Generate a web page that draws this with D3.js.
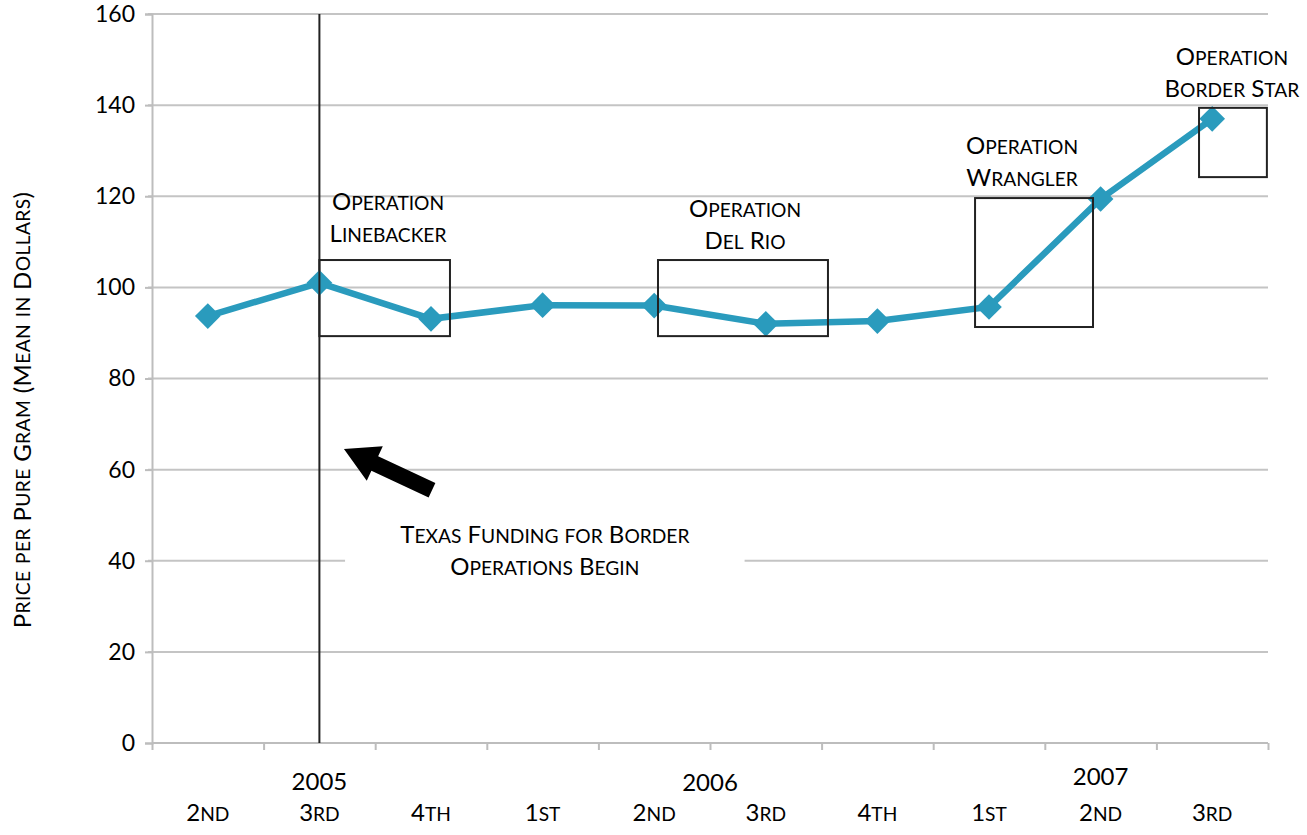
<!DOCTYPE html>
<html>
<head>
<meta charset="utf-8">
<script src="https://cdn.jsdelivr.net/npm/d3@7"></script>
<style>
  body { margin: 0; background: #fff; }
  text { font-family: Lato, "Open Sans", sans-serif; fill: #000; }
</style>
</head>
<body>
<div id="chart"></div>
<script>
// Données
const quarters = ["2nd", "3rd", "4th", "1st", "2nd", "3rd", "4th", "1st", "2nd", "3rd"];
const prices = [93.7, 101.0, 93.1, 96.1, 96.0, 92.0, 92.6, 95.7, 119.4, 137.0];
const years = [{ label: "2005", at: 1, dy: 0 }, { label: "2006", at: 4.5, dy: 1 }, { label: "2007", at: 8, dy: -5 }];
const yTicks = [0, 20, 40, 60, 80, 100, 120, 140, 160];

// Annotations (x en index de trimestre, y en dollars)
const boxes = [
    { x0: 1.0, x1: 2.17, y0: 89.3, y1: 106 },
    { x0: 4.034, x1: 5.557, y0: 89.3, y1: 106 },
    { x0: 6.875, x1: 7.932, y0: 91.3, y1: 119.6 },
    { x0: 8.882, x1: 9.49, y0: 124.2, y1: 139.4 }
];
const labels = [
    { x: 1.615, y: 119.0, lines: ["Operation", "Linebacker"] },
    { x: 4.814, y: 117.4, lines: ["Operation", "Del Rio"] },
    { x: 7.296, y: 131.3, lines: ["Operation", "Wrangler"] },
    { x: 9.177, y: 150.8, lines: ["Operation", "Border Star"] },
    { x: 3.02, y: 45.9, lines: ["Texas Funding for Border", "Operations Begin"] }
];
const arrow = { tip: [1.22, 64.5], tail: [2.009, 55.5] };
const startLine = 1;

const W = 1307, H = 835;
const margin = { top: 14, right: 39, bottom: 92, left: 152 };
const width = W - margin.left - margin.right;
const height = H - margin.top - margin.bottom;
const FS = 24;

const svg = d3.select("#chart").append("svg")
    .attr("width", W).attr("height", H)
    .append("g")
    .attr("transform", `translate(${margin.left},${margin.top})`);

const x = d3.scaleLinear().domain([-0.5, quarters.length - 0.5]).range([0, width]);
const y = d3.scaleLinear().domain([0, 160]).range([height, 0]);

// Petites capitales faites à la main (majuscules réduites à 80 %)
function smallCaps(sel, str, size) {
    const parts = [];
    for (const ch of str) {
        const small = ch !== ch.toUpperCase();
        const last = parts[parts.length - 1];
        if (last && last.small === small) last.s += ch;
        else parts.push({ s: ch, small });
    }
    parts.forEach(p => {
        sel.append("tspan")
            .style("font-size", (p.small ? size * 0.8 : size) + "px")
            .text(p.small ? p.s.toUpperCase() : p.s);
    });
}

// Grille horizontale
svg.selectAll(".grid").data(yTicks.filter(d => d > 0)).enter()
    .append("line")
    .attr("x1", -4).attr("x2", width)
    .attr("y1", d => y(d)).attr("y2", d => y(d))
    .attr("stroke", "#c4c4c4").attr("stroke-width", 2);

// Axe Y
const yAxis = svg.append("g").call(d3.axisLeft(y).tickValues(yTicks).tickSize(7).tickPadding(10));
yAxis.select(".domain").attr("stroke", "#bdbdbd").attr("stroke-width", 2);
yAxis.selectAll(".tick line").attr("stroke", "#bdbdbd").attr("stroke-width", 2);
yAxis.selectAll(".tick text").style("font-size", "23px").style("font-family", "Lato, sans-serif").attr("fill", "#000");

// Axe X
const bounds = d3.range(quarters.length + 1).map(i => i - 0.5);
const xAxis = svg.append("g").attr("transform", `translate(0,${height})`)
    .call(d3.axisBottom(x).tickValues(bounds).tickSize(7).tickFormat(""));
xAxis.select(".domain").attr("stroke", "#bdbdbd").attr("stroke-width", 2).attr("d", `M0,0H${width}`);
xAxis.selectAll(".tick line").attr("stroke", "#bdbdbd").attr("stroke-width", 2);

svg.selectAll(".qlabel").data(quarters).enter()
    .append("text")
    .attr("x", (d, i) => x(i)).attr("y", height + 78)
    .attr("text-anchor", "middle")
    .each(function (d) { smallCaps(d3.select(this), d, FS); });

svg.selectAll(".ylabel").data(years).enter()
    .append("text")
    .attr("x", d => x(d.at)).attr("y", height + 47).attr("dy", d => d.dy)
    .attr("text-anchor", "middle").style("font-size", FS + "px")
    .text(d => d.label);

// Titre de l'axe Y
const yTitle = svg.append("text")
    .attr("transform", `translate(${-127},${y(73.1)}) rotate(-90)`)
    .attr("text-anchor", "middle").attr("dominant-baseline", "middle")
    .style("letter-spacing", "0.4px");
smallCaps(yTitle, "Price per Pure Gram (Mean in Dollars)", FS);

// Fond blanc derrière le texte du financement
svg.append("rect")
    .attr("x", x(1.23)).attr("width", x(4.81) - x(1.23))
    .attr("y", y(49.6)).attr("height", y(33.6) - y(49.6))
    .attr("fill", "#fff");

// Ligne verticale de début
svg.append("line")
    .attr("x1", x(startLine)).attr("x2", x(startLine))
    .attr("y1", 0).attr("y2", height)
    .attr("stroke", "#222").attr("stroke-width", 2);

// Série
const line = d3.line().x((d, i) => x(i)).y(d => y(d));
svg.append("path").datum(prices)
    .attr("d", line).attr("fill", "none")
    .attr("stroke", "#2a9bbd").attr("stroke-width", 6.5);

svg.selectAll(".pt").data(prices).enter()
    .append("path")
    .attr("transform", (d, i) => `translate(${x(i)},${y(d)})`)
    .attr("d", d3.symbol(d3.symbolDiamond2, 420)())
    .attr("fill", "#2a9bbd");

// Cadres des opérations
svg.selectAll(".box").data(boxes).enter()
    .append("rect")
    .attr("x", d => x(d.x0)).attr("width", d => x(d.x1) - x(d.x0))
    .attr("y", d => y(d.y1)).attr("height", d => y(d.y0) - y(d.y1))
    .attr("fill", "none").attr("stroke", "#222").attr("stroke-width", 2);

// Textes d'annotation
labels.forEach(l => {
    l.lines.forEach((s, k) => {
        const t = svg.append("text")
            .attr("text-anchor", "middle")
            .attr("x", x(l.x)).attr("y", y(l.y) + 9 + k * 32);
        smallCaps(t, s, FS);
    });
});

// Flèche
const tip = [x(arrow.tip[0]), y(arrow.tip[1])];
const tail = [x(arrow.tail[0]), y(arrow.tail[1])];
const dx = tip[0] - tail[0], dy = tip[1] - tail[1];
const len = Math.hypot(dx, dy);
const ux = dx / len, uy = dy / len, nx = -uy, ny = ux;
const shaft = 8, head = 19, headLen = 34;
const base = [tip[0] - ux * headLen, tip[1] - uy * headLen];
const pts = [
    [tail[0] + nx * shaft, tail[1] + ny * shaft],
    [base[0] + nx * shaft, base[1] + ny * shaft],
    [base[0] + nx * head, base[1] + ny * head],
    tip,
    [base[0] - nx * head, base[1] - ny * head],
    [base[0] - nx * shaft, base[1] - ny * shaft],
    [tail[0] - nx * shaft, tail[1] - ny * shaft]
];
svg.append("path").attr("d", "M" + pts.map(p => p.join(",")).join("L") + "Z").attr("fill", "#000");
</script>
</body>
</html>
